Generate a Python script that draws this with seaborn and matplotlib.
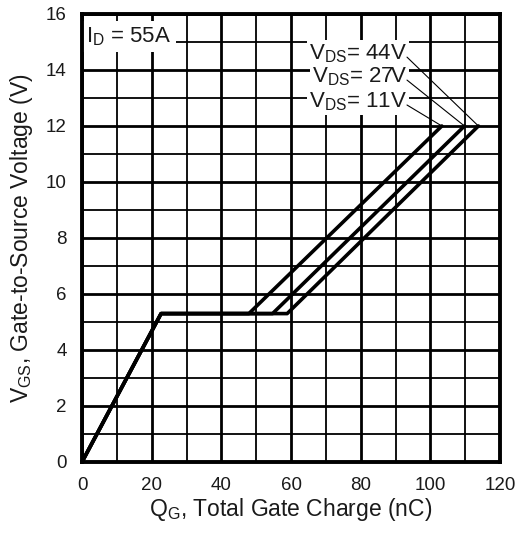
import matplotlib
matplotlib.use("Agg")
import matplotlib.pyplot as plt
import seaborn as sns
import pandas as pd
from matplotlib.ticker import MultipleLocator

sns.set_theme(style="white")
plt.rcParams['font.family'] = ['Liberation Sans', 'DejaVu Sans']
plt.rcParams['mathtext.fontset'] = 'custom'
plt.rcParams['mathtext.rm'] = 'Liberation Sans'
plt.rcParams['mathtext.it'] = 'Liberation Sans'

# Data
series_names = ["VDS= 11V", "VDS= 27V", "VDS= 44V"]
label_texts = [r"V$_{\mathrm{DS}}$= 11V", r"V$_{\mathrm{DS}}$= 27V", r"V$_{\mathrm{DS}}$= 44V"]
qg_11 = [0, 22.7, 47.9, 103.3]
qg_27 = [0, 22.7, 54.7, 109.8]
qg_44 = [0, 22.7, 58.9, 113.8]
vgs = [0, 5.3, 5.3, 12.0]
label_y = [12.75, 13.64, 14.46]
label_x = 93.3
x_ticks = [0, 20, 40, 60, 80, 100, 120]
y_ticks = [0, 2, 4, 6, 8, 10, 12, 14, 16]

qg_all = [qg_11, qg_27, qg_44]
rows = []
for name, q in zip(series_names, qg_all):
    for i, (qq, vv) in enumerate(zip(q, vgs)):
        rows.append({"series": name, "QG": qq, "VGS": vv, "order": i})
df = pd.DataFrame(rows)

fig = plt.figure(figsize=(5.23, 5.33), dpi=100)
ax = fig.add_axes([82/523, 1-462/533, 418/523, 448/533])

sns.lineplot(data=df, x="QG", y="VGS", hue="series", sort=False,
             palette=["black"]*3, linewidth=2.6, legend=False, ax=ax, zorder=5)

ax.set_xlim(0, 120)
ax.set_ylim(0, 16)
ax.set_xticks(x_ticks)
ax.set_yticks(y_ticks)
ax.xaxis.set_minor_locator(MultipleLocator(10))
ax.yaxis.set_minor_locator(MultipleLocator(1))
ax.grid(which='major', color='black', linewidth=2.0, zorder=0)
ax.grid(which='minor', color='black', linewidth=1.3, zorder=0)
ax.set_axisbelow(True)
ax.tick_params(which='both', length=0, labelsize=13.5, colors='#1a1a1a')
ax.tick_params(axis='x', pad=11)
ax.tick_params(axis='y', pad=11)
for s in ax.spines.values():
    s.set_color('black')
    s.set_linewidth(2.8)
    s.set_zorder(10)

ax.set_xlabel(r"Q$_{\mathrm{G}}$, Total Gate Charge (nC)", fontsize=16.5, color='#1a1a1a', labelpad=1)
ax.set_ylabel(r"V$_{\mathrm{GS}}$, Gate-to-Source Voltage (V)", fontsize=16.5, color='#1a1a1a', labelpad=8)

# I_D annotation
ax.text(1.2, 15.2, r"I$_{\mathrm{D}}$ = 55A", fontsize=16, color='#1a1a1a',
        va='center', ha='left', zorder=8,
        bbox=dict(facecolor='white', edgecolor='none', pad=3))

# VDS labels with leader lines
for txt, ly, q in zip(label_texts, label_y, qg_all):
    ax.text(label_x, ly + 0.12, txt, fontsize=16, color='#1a1a1a', ha='right', va='center',
            zorder=8, bbox=dict(facecolor='white', edgecolor='none', pad=1.5))
    ax.plot([label_x, q[-1]], [ly, vgs[-1]], color='black', linewidth=0.8, zorder=9)

fig.savefig("out.png", dpi=100)
